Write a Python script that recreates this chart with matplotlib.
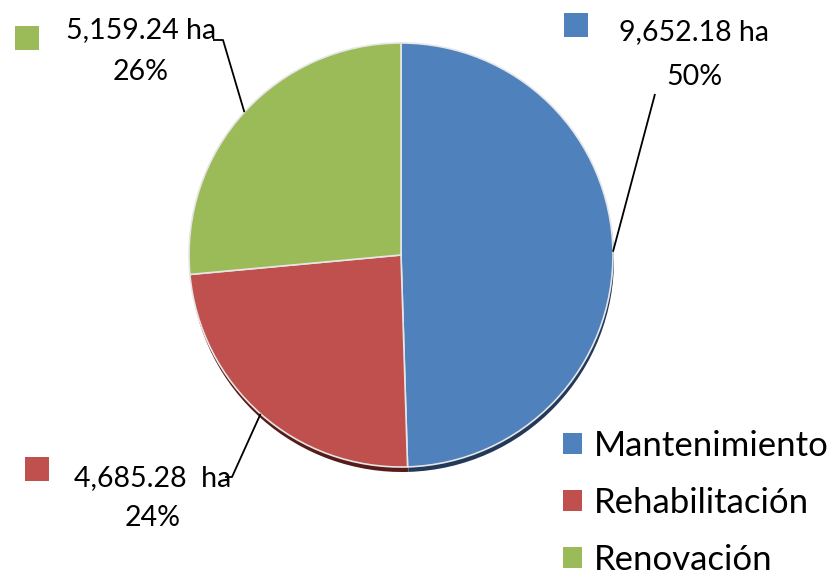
import numpy as np
import matplotlib
matplotlib.use('Agg')
import matplotlib.pyplot as plt
from matplotlib.patches import Rectangle

categories = ['Mantenimiento', 'Rehabilitación', 'Renovación']
areas = [9652.18, 4685.28, 5159.24]
area_labels = ['9,652.18 ha', '4,685.28  ha', '5,159.24 ha']
pct_labels = ['50%', '24%', '26%']
colors = ['#4F81BD', '#C0504D', '#9BBB59']
shadow_colors = ['#22395a', '#571b19', '#4a5c28']

plt.rcParams['font.family'] = ['Lato', 'DejaVu Sans']

W, H = 833, 574
fig = plt.figure(figsize=(W / 100, H / 100), dpi=100)
ax = fig.add_axes([0, 0, 1, 1])


def Y(y):
    return H - y


cx, cy, R = 401, 255, 212

# shadow
ax.pie(areas, colors=shadow_colors, startangle=90, counterclock=False,
       center=(cx + 1, Y(cy + 5)), radius=R, frame=True,
       wedgeprops=dict(linewidth=0))
wedges, _ = ax.pie(areas, colors=colors, startangle=90, counterclock=False,
                   center=(cx, Y(cy)), radius=R, frame=True,
                   wedgeprops=dict(linewidth=1.2, edgecolor='#e6e6e6'))

ax.set_xlim(0, W)
ax.set_ylim(0, H)
ax.set_aspect('equal')
ax.axis('off')

# label layout: square corner, text centre x, text centre rows, leader elbow points
layout = [
    dict(sq=(564, 13), tx=694, ty1=32, ty2=77, line=[(655, 94)]),
    dict(sq=(25, 457), tx=153, ty1=478, ty2=518, line=[(232, 477), (225, 477)]),
    dict(sq=(15, 26), tx=141, ty1=30, ty2=72, line=[(223, 40), (213, 40)]),
]
fs = 20.5
for w, col, lab, pct, L in zip(wedges, colors, area_labels, pct_labels, layout):
    sx, sy = L['sq']
    ax.add_patch(Rectangle((sx, Y(sy + 24)), 24, 24, facecolor=col, edgecolor='none'))
    ax.text(L['tx'], Y(L['ty1']), lab, ha='center', va='center', fontsize=fs, color='black')
    ax.text(L['tx'], Y(L['ty2']), pct, ha='center', va='center', fontsize=fs, color='black')
    mid = np.deg2rad((w.theta1 + w.theta2) / 2)
    x0 = cx + R * np.cos(mid)
    y0 = Y(cy) + R * np.sin(mid)
    xs = [x0] + [p[0] for p in L['line']]
    ys = [y0] + [Y(p[1]) for p in L['line']]
    ax.plot(xs, ys, color='black', linewidth=1.3, solid_capstyle='butt')

leg = ax.legend(wedges, categories, loc='upper left', bbox_to_anchor=(563 / W, 1 - 430 / H),
                frameon=False, fontsize=25, handlelength=0.55, handleheight=0.55,
                handletextpad=0.35, labelspacing=0.72, borderpad=0, borderaxespad=0)
for h in leg.legend_handles:
    h.set_edgecolor('none')

fig.savefig('out.png', dpi=100)
